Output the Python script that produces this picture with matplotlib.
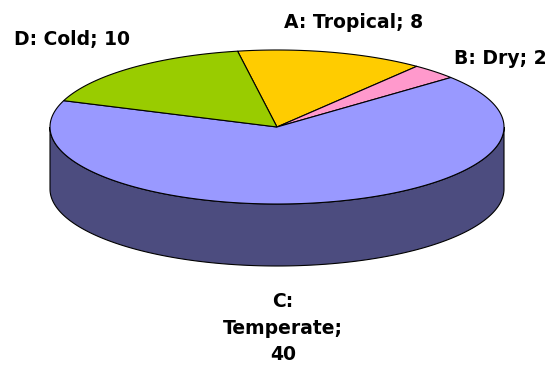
"""3D-style pie of climate zone counts"""
import matplotlib.pyplot as plt
from matplotlib.patches import Polygon
import numpy as np

labels = ['A: Tropical; 8', 'B: Dry; 2', 'C:\nTemperate;\n40', 'D: Cold; 10']
values = [8, 2, 40, 10]
top_colors = ['#FFCC00', '#FF99CC', '#9999FF', '#99CC00']
side_colors = ['#7F6600', '#7F4C66', '#4C4C7F', '#4C6600']

# pie geometry in pixel units (y grows downwards)
cx, cy = 277, 127
rx, ry = 227, 77
depth = 62
start = -10.0  # degrees, clockwise from 12 o'clock

label_pos = [(354, 23), (500, 59), (283, 328), (72, 40)]

fig = plt.figure(figsize=(5.47, 3.66), dpi=100)
ax = fig.add_axes([0, 0, 1, 1])
ax.set_xlim(0, 547)
ax.set_ylim(366, 0)
ax.axis('off')


def rim(t, dz=0.0):
    r = np.radians(t)
    return cx + rx * np.sin(r), cy - ry * np.cos(r) + dz


total = sum(values)
edges = np.concatenate([[0], np.cumsum(values)]) / total * 360 + start

# side walls: only the front half (90..270 degrees) is visible
for i in range(len(values)):
    t0, t1 = edges[i], edges[i + 1]
    for off in (-360, 0, 360):
        a0, a1 = max(t0 + off, 90), min(t1 + off, 270)
        if a1 <= a0:
            continue
        ts = np.linspace(a0, a1, 200)
        xt, yt = rim(ts)
        xb, yb = rim(ts[::-1], depth)
        pts = np.column_stack([np.concatenate([xt, xb]),
                               np.concatenate([yt, yb])])
        ax.add_patch(Polygon(pts, closed=True, facecolor=side_colors[i],
                             edgecolor='black', linewidth=0.8))

# top faces
for i in range(len(values)):
    ts = np.linspace(edges[i], edges[i + 1], 300)
    xs, ys = rim(ts)
    pts = np.column_stack([np.concatenate([[cx], xs]),
                           np.concatenate([[cy], ys])])
    ax.add_patch(Polygon(pts, closed=True, facecolor=top_colors[i],
                         edgecolor='black', linewidth=0.8))

for lab, (x, y) in zip(labels, label_pos):
    ax.text(x, y, lab, ha='center', va='center', fontsize=13.5,
            fontweight='bold', family='DejaVu Sans', linespacing=1.5)

fig.savefig('out.png', dpi=100)
